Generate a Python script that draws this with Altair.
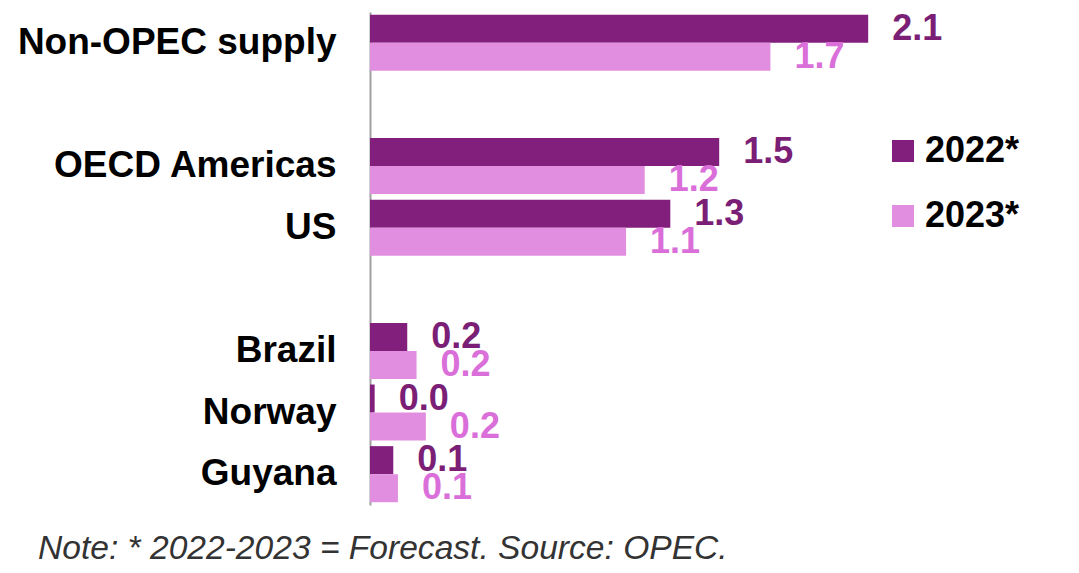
import altair as alt
import pandas as pd

categories = ["Non-OPEC supply", "OECD Americas", "US", "Brazil", "Norway", "Guyana"]
slot_order = ["Non-OPEC supply", "_gap1", "OECD Americas", "US", "_gap2", "Brazil", "Norway", "Guyana"]
years = ["2022*", "2023*"]
values_2022 = [2.14, 1.50, 1.29, 0.16, 0.02, 0.10]
values_2023 = [1.72, 1.18, 1.10, 0.20, 0.24, 0.12]
bar_colors = ["#821F7D", "#E28EE0"]
label_colors = ["#7A1F75", "#DA6FD9"]

rows = []
for c, a, b in zip(categories, values_2022, values_2023):
    rows.append({"cat": c, "year": years[0], "value": a})
    rows.append({"cat": c, "year": years[1], "value": b})
df = pd.DataFrame(rows)

FONT = "Liberation Sans, Arial, Helvetica, sans-serif"

y_enc = alt.Y(
    "cat:N",
    scale=alt.Scale(domain=slot_order, paddingInner=0.09, paddingOuter=0.045),
    axis=alt.Axis(
        title=None,
        ticks=False,
        grid=False,
        domainColor="#a0a0a0",
        domainWidth=2,
        labelFont=FONT,
        labelFontSize=37,
        labelFontWeight="bold",
        labelColor="#000000",
        labelPadding=34,
        labelLimit=0,
        labelExpr="indexof(datum.label, '_') == 0 ? '' : datum.label",
    ),
)
yoff = alt.YOffset("year:N", sort=years, scale=alt.Scale(paddingInner=0, paddingOuter=0))
x_enc = alt.X("value:Q", scale=alt.Scale(domain=[0, 2.5], nice=False, zero=True), axis=None)

bars = alt.Chart(df).mark_bar().encode(
    y=y_enc,
    yOffset=yoff,
    x=x_enc,
    color=alt.Color(
        "year:N",
        scale=alt.Scale(domain=years, range=bar_colors),
        legend=alt.Legend(
            title=None,
            orient="none",
            legendX=515,
            legendY=121,
            symbolType="square",
            symbolSize=484,
            symbolStrokeWidth=0,
            symbolOpacity=1,
            labelFont=FONT,
            labelFontSize=36,
            labelFontWeight="bold",
            labelColor="#000000",
            labelOffset=4,
            rowPadding=29,
        ),
    ),
)

labels = alt.Chart(df).transform_calculate(
    lbl="format(datum.value, '.1f')"
).mark_text(
    align="left", baseline="middle", dx=24, font=FONT, fontSize=36, fontWeight="bold"
).encode(
    y=alt.Y("cat:N", scale=alt.Scale(domain=slot_order)),
    yOffset=yoff,
    x=x_enc,
    text="lbl:N",
    color=alt.condition(
        alt.datum.year == years[0], alt.value(label_colors[0]), alt.value(label_colors[1])
    ),
)

chart = (
    alt.layer(bars, labels)
    .properties(
        width=582,
        height=493,
        padding={"left": 362, "top": 4, "right": 110, "bottom": 60},
        autosize=alt.AutoSizeParams(type="none"),
        background="#ffffff",
        title=alt.TitleParams(
            "Note: * 2022-2023 = Forecast. Source: OPEC.",
            orient="bottom",
            anchor="start",
            frame="group",
            dx=-332,
            offset=26,
            font=FONT,
            fontSize=33.6,
            fontStyle="italic",
            fontWeight="normal",
            color="#333333",
        ),
    )
    .configure_view(stroke=None)
)

chart.save("out.html", embed_options={"renderer": "svg", "actions": False})
